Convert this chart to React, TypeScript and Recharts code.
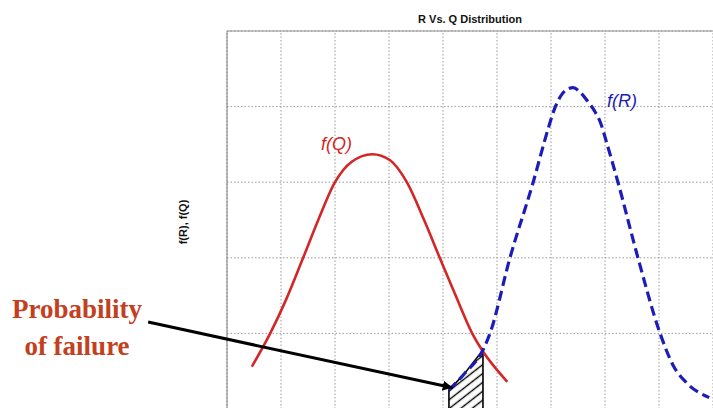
import React from 'react';
import { ComposedChart, Line, Area, XAxis, YAxis, ReferenceLine } from 'recharts';

const xTicks = [0, 1, 2, 3, 4, 5, 6, 7, 8, 9, 10];
const yTicks = [0, 1, 2, 3, 4, 5];

// f(Q) — stress distribution (red, solid)
const qX = [0.46, 0.8, 1.09, 1.41, 1.69, 2.0, 2.31, 2.69, 3.02, 3.33, 3.65, 3.94, 4.24, 4.54, 4.74, 4.95, 5.19];
const qY = [0.56, 1.0, 1.44, 2.0, 2.5, 3.0, 3.27, 3.37, 3.29, 3.0, 2.5, 2.0, 1.49, 1.0, 0.76, 0.56, 0.36];

// f(R) — strength distribution (blue, dashed)
const rX = [4.11, 4.4, 4.74, 4.87, 5.24, 5.67, 5.94, 6.06, 6.18, 6.3, 6.41, 6.54, 6.68, 6.8, 6.91, 7.04, 7.24, 7.61, 8.02, 8.26, 8.52, 8.93];
const rY = [0.25, 0.47, 0.78, 1.0, 2.0, 3.0, 3.69, 3.96, 4.14, 4.23, 4.25, 4.19, 4.07, 3.95, 3.8, 3.5, 3.0, 2.0, 1.0, 0.58, 0.34, 0.15];

// hatched overlap (probability of failure)
const fX = [4.11, 4.11, 4.4, 4.74, 4.74];
const fY = [0, 0.25, 0.47, 0.78, 0];

// annotation arrow (data coordinates)
const arrowX = [-1.46, 4.18];
const arrowY = [1.15, 0.28];

const title = 'R Vs. Q Distribution';
const yLabel = 'f(R), f(Q)';
const qLabel = 'f(Q)';
const rLabel = 'f(R)';
const noteLines = ['Probability', 'of failure'];

const zip = (xs: number[], ys: number[]) => xs.map((x, i) => ({ x, y: ys[i] }));
const qData = zip(qX, qY);
const rData = zip(rX, rY);
const fData = zip(fX, fY);
const arrowSeg = zip(arrowX, arrowY);

const RED = '#d42626';
const BLUE = '#1c1cb8';
const NOTE = '#c3401f';
const FRAME = '#8f8f8f';
const GRID = '#9a9a9a';

export default function App() {
  return (
    <div style={{ position: 'absolute', left: 0, top: 0, width: 713, height: 408, overflow: 'hidden', background: '#fff' }}>
      <svg width={0} height={0} style={{ position: 'absolute' }}>
        <defs>
          <pattern id="hatch" patternUnits="userSpaceOnUse" width={10} height={7} patternTransform="rotate(-38)">
            <line x1={0} y1={3.5} x2={10} y2={3.5} stroke="#000" strokeWidth={1.4} />
          </pattern>
          <marker id="arrowHead" markerUnits="userSpaceOnUse" markerWidth={12} markerHeight={10} refX={10} refY={5} orient="auto">
            <path d="M0,0 L10,5 L0,10 z" fill="#000" />
          </marker>
        </defs>
      </svg>
      <ComposedChart width={770} height={420} margin={{ top: 31, right: 3, bottom: 11, left: 227 }}>
        <XAxis type="number" dataKey="x" domain={[0, 10]} ticks={xTicks} tick={false} tickLine={false} axisLine={false} height={0} allowDataOverflow />
        <YAxis type="number" domain={[0, 5]} ticks={yTicks} tick={false} tickLine={false} width={0} axisLine={false} allowDataOverflow />
        {xTicks.map((t) => (
          <ReferenceLine key={'gx' + t} x={t} stroke={GRID} strokeDasharray="1.5 2" ifOverflow="visible" />
        ))}
        {yTicks.map((t) => (
          <ReferenceLine key={'gy' + t} y={t} stroke={GRID} strokeDasharray="1.5 2" ifOverflow="visible" />
        ))}
        <ReferenceLine y={5} stroke={FRAME} strokeWidth={1.2} ifOverflow="visible" />
        <ReferenceLine x={0} stroke={FRAME} strokeWidth={1.2} ifOverflow="visible" />
        <Area data={fData} dataKey="y" type="linear" stroke="#000" strokeWidth={1.6} fill="url(#hatch)" fillOpacity={1} isAnimationActive={false} dot={false} activeDot={false} />
        <Line data={qData} dataKey="y" type="monotone" stroke={RED} strokeWidth={2.6} dot={false} activeDot={false} isAnimationActive={false} />
        <Line data={rData} dataKey="y" type="monotone" stroke={BLUE} strokeWidth={3.2} strokeDasharray="10 5" dot={false} activeDot={false} isAnimationActive={false} />
        <ReferenceLine
          segment={arrowSeg}
          ifOverflow="visible"
          shape={(p: any) => (
            <line x1={p.x1} y1={p.y1} x2={p.x2} y2={p.y2} stroke="#000" strokeWidth={3} markerEnd="url(#arrowHead)" />
          )}
        />
      </ComposedChart>
      <svg width={713} height={408} style={{ position: 'absolute', left: 0, top: 0, pointerEvents: 'none' }}>
        <text x={470} y={23} textAnchor="middle" fontFamily="Liberation Sans, Arial, sans-serif" fontWeight="bold" fontSize={11} fill="#111">{title}</text>
        <text transform="translate(187,222) rotate(-90)" textAnchor="middle" fontFamily="Liberation Sans, Arial, sans-serif" fontWeight="bold" fontSize={11} fill="#111">{yLabel}</text>
        <text x={321} y={150} fontFamily="Liberation Sans, Arial, sans-serif" fontStyle="italic" fontSize={18} fill={RED}>{qLabel}</text>
        <text x={607} y={107} fontFamily="Liberation Sans, Arial, sans-serif" fontStyle="italic" fontSize={18} fill={BLUE}>{rLabel}</text>
        {noteLines.map((t, i) => (
          <text key={t} x={77} y={318 + i * 37} textAnchor="middle" fontFamily="Liberation Serif, Times New Roman, serif" fontWeight="bold" fontSize={27} fill={NOTE}>{t}</text>
        ))}
      </svg>
    </div>
  );
}
